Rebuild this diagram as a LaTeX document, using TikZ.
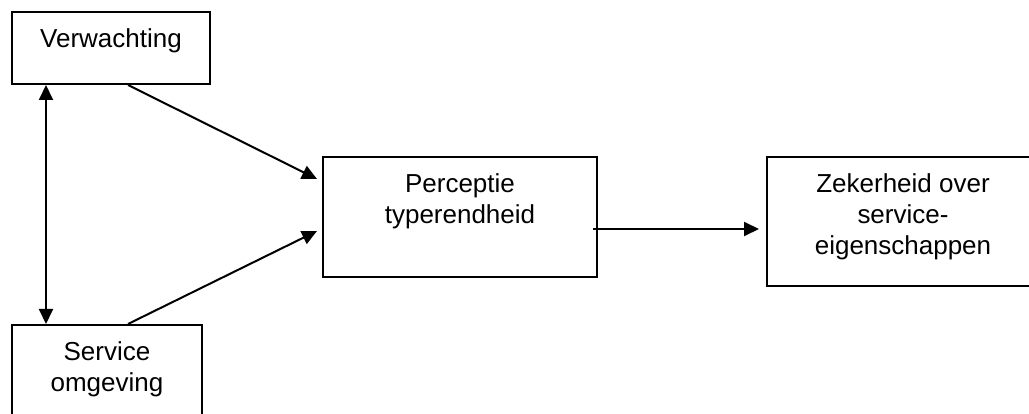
\documentclass[tikz,border=0pt]{standalone}
\usepackage{fontspec}
\setmainfont{Liberation Sans}
\usetikzlibrary{arrows.meta}
\begin{document}
\begin{tikzpicture}[x=1pt,y=-1pt,
  box/.style={draw,line width=2pt,inner sep=0pt},
  lbl/.style={anchor=north,align=center,inner sep=0pt,yshift=-17pt,
    font=\fontsize{26}{31}\selectfont},
  pijl/.style={line width=2pt,-{Triangle[length=15pt,width=14pt]}}]
  \useasboundingbox (0,0) rectangle (1029,414);
  \clip (0,0) rectangle (1029,414);
  \node[box,minimum width=198pt,minimum height=72pt] (verw) at (111,48) {};
  \node[box,minimum width=190pt,minimum height=100pt] (serv) at (107,375) {};
  \node[box,minimum width=274pt,minimum height=120pt] (perc) at (460,217) {};
  \node[box,minimum width=272pt,minimum height=129pt] (zek) at (903,221.5) {};
  \node[lbl] (verwtxt) at (verw.north) {Verwachting};
  \node[lbl] (servtxt) at (serv.north) {Service\\omgeving};
  \node[lbl] (perctxt) at (perc.north) {Perceptie\\typerendheid};
  \node[lbl] (zektxt) at (zek.north) {Zekerheid over\\service-\\eigenschappen};
  \draw[pijl,{Triangle[length=15pt,width=14pt]}-{Triangle[length=15pt,width=14pt]}]
    ([xshift=35pt]verw.south west) -- ([xshift=35pt]serv.north west);
  \draw[pijl] ([xshift=17pt]verw.south) -- ([shift={(-5,23)}]perc.north west);
  \draw[pijl] ([xshift=21pt]serv.north) -- ([shift={(-5,-47)}]perc.south west);
  \draw[pijl] ([shift={(-5,12)}]perc.east) -- ([shift={(-7,7.5)}]zek.west);
\end{tikzpicture}
\end{document}
